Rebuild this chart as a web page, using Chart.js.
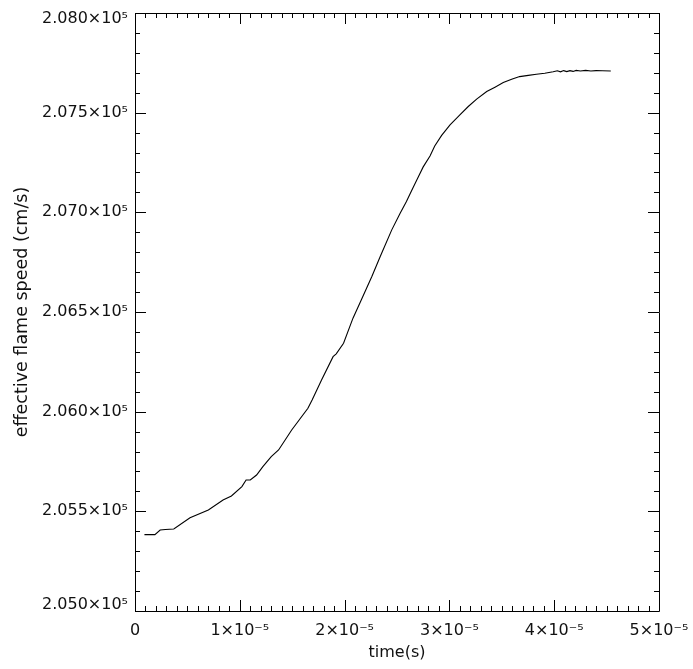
<!DOCTYPE html>
<html>
<head>
<meta charset="utf-8">
<script src="https://cdn.jsdelivr.net/npm/chart.js@4/dist/chart.umd.min.js"></script>
<style>
  html, body { margin: 0; padding: 0; background: #fff; }
  #wrap { width: 693px; height: 669px; position: relative; }
</style>
</head>
<body>
<div id="wrap"><canvas id="c"></canvas></div>
<script>
// time in seconds
const timeValues = [
  0.9e-6, 1.9e-6, 2.4e-6, 2.9e-6, 3.7e-6, 5.25e-6, 7.0e-6, 8.4e-6, 9.2e-6,
  10.2e-6, 10.6e-6, 11.0e-6, 11.6e-6, 12.2e-6, 13.0e-6, 13.7e-6, 14.95e-6,
  16.5e-6, 16.9e-6, 17.8e-6, 18.9e-6, 19.2e-6, 19.9e-6, 20.8e-6, 21.6e-6,
  22.6e-6, 23.4e-6, 24.5e-6, 25.3e-6, 25.9e-6, 26.4e-6, 26.9e-6, 27.5e-6,
  28.15e-6, 28.6e-6, 29.26e-6, 30.06e-6, 31.0e-6, 31.8e-6, 32.6e-6, 33.56e-6,
  34.35e-6, 35.14e-6, 35.94e-6, 36.7e-6, 37.53e-6, 38.3e-6, 39.1e-6, 39.9e-6,
  40.3e-6, 40.6e-6, 40.9e-6, 41.2e-6, 41.5e-6, 41.8e-6, 42.1e-6, 42.5e-6,
  43.0e-6, 43.5e-6, 44.0e-6, 44.6e-6, 45.4e-6
];
// effective flame speed (cm/s)
const speedValues = [
  205383, 205383, 205406, 205409, 205411, 205468, 205507, 205557, 205577,
  205624, 205657, 205657, 205682, 205724, 205774, 205808, 205908,
  206017, 206059, 206159, 206276, 206290, 206343, 206469, 206561,
  206678, 206778, 206912, 206996, 207054, 207110, 207163, 207228,
  207283, 207333, 207386, 207439, 207489, 207531, 207568, 207606,
  207628, 207651, 207668, 207681, 207687, 207693, 207698, 207705,
  207710, 207705, 207711, 207706, 207711, 207707, 207712, 207709,
  207712, 207709, 207711, 207710, 207709
];
const xTickLabels = ['0', '1×10⁻⁵', '2×10⁻⁵', '3×10⁻⁵', '4×10⁻⁵', '5×10⁻⁵'];
const yTickLabels = ['2.050×10⁵', '2.055×10⁵', '2.060×10⁵', '2.065×10⁵', '2.070×10⁵', '2.075×10⁵', '2.080×10⁵'];
const xTitle = 'time(s)';
const yTitle = 'effective flame speed (cm/s)';

const X_MIN = 0, X_MAX = 5e-5, X_STEP = 1e-5, X_MINOR = 10;
const Y_MIN = 205000, Y_MAX = 208000, Y_STEP = 500, Y_MINOR = 5;

const FONT = 'DejaVu Sans';
const INK = '#111';

const points = timeValues.map((t, i) => ({ x: t, y: speedValues[i] }));

const frameTicks = {
  id: 'frameTicks',
  beforeDraw(chart) {
    // nudge end labels of the y axis inward, like the original
    const ys = chart.scales.y;
    const items = ys.getLabelItems();
    if (items.length) {
      items[0].options.translation[1] -= 6;
      items[items.length - 1].options.translation[1] += 6;
    }
  },
  afterDatasetsDraw(chart) {
    const { ctx, chartArea: a, scales } = chart;
    const xs = scales.x, ys = scales.y;
    ctx.save();
    ctx.strokeStyle = '#000';
    ctx.lineWidth = 1;
    ctx.beginPath();
    ctx.rect(Math.round(a.left) + 0.5, Math.round(a.top) + 0.5,
             Math.round(a.right - a.left), Math.round(a.bottom - a.top));
    ctx.stroke();
    const MAJ = 11, MIN = 5;
    ctx.beginPath();
    const nx = Math.round((X_MAX - X_MIN) / X_STEP) * X_MINOR;
    for (let i = 0; i <= nx; i++) {
      const v = X_MIN + i * (X_STEP / X_MINOR);
      const px = Math.round(xs.getPixelForValue(v)) + 0.5;
      const len = (i % X_MINOR === 0) ? MAJ : MIN;
      ctx.moveTo(px, a.bottom); ctx.lineTo(px, a.bottom - len);
      ctx.moveTo(px, a.top); ctx.lineTo(px, a.top + len);
    }
    const ny = Math.round((Y_MAX - Y_MIN) / Y_STEP) * Y_MINOR;
    for (let i = 0; i <= ny; i++) {
      const v = Y_MIN + i * (Y_STEP / Y_MINOR);
      const py = Math.round(ys.getPixelForValue(v)) + 0.5;
      const len = (i % Y_MINOR === 0) ? MAJ : MIN;
      ctx.moveTo(a.left, py); ctx.lineTo(a.left + len, py);
      ctx.moveTo(a.right, py); ctx.lineTo(a.right - len, py);
    }
    ctx.stroke();
    ctx.restore();
  }
};

new Chart(document.getElementById('c'), {
  type: 'line',
  data: {
    datasets: [{
      data: points,
      borderColor: '#000',
      borderWidth: 1.1,
      pointRadius: 0,
      tension: 0,
      fill: false
    }]
  },
  options: {
    responsive: true,
    maintainAspectRatio: false,
    animation: false,
    events: [],
    layout: { padding: { top: 13, right: 34, left: 0, bottom: 0 } },
    plugins: { legend: { display: false }, tooltip: { enabled: false } },
    scales: {
      x: {
        type: 'linear',
        min: X_MIN, max: X_MAX,
        afterFit(s) { s.height = 58; s.paddingLeft = 0; s.paddingRight = 0; },
        grid: { display: false, drawTicks: false },
        border: { display: false },
        ticks: {
          stepSize: X_STEP,
          maxRotation: 0,
          padding: 10,
          color: INK,
          font: { family: FONT, size: 16 },
          callback(v) { return xTickLabels[Math.round((v - X_MIN) / X_STEP)]; }
        },
        title: {
          display: true, text: xTitle, color: INK,
          font: { family: FONT, size: 16 },
          padding: { top: 0, bottom: 7 }
        }
      },
      y: {
        type: 'linear',
        min: Y_MIN, max: Y_MAX,
        afterFit(s) { s.width = 135; s.paddingTop = 0; s.paddingBottom = 0; },
        grid: { display: false, drawTicks: false },
        border: { display: false },
        ticks: {
          stepSize: Y_STEP,
          padding: 7,
          color: INK,
          font: { family: FONT, size: 16 },
          callback(v) { return yTickLabels[Math.round((v - Y_MIN) / Y_STEP)]; }
        },
        title: {
          display: true, text: yTitle, color: INK,
          font: { family: FONT, size: 17.5 },
          padding: { top: 12, bottom: 0 }
        }
      }
    }
  },
  plugins: [frameTicks]
});
</script>
</body>
</html>
